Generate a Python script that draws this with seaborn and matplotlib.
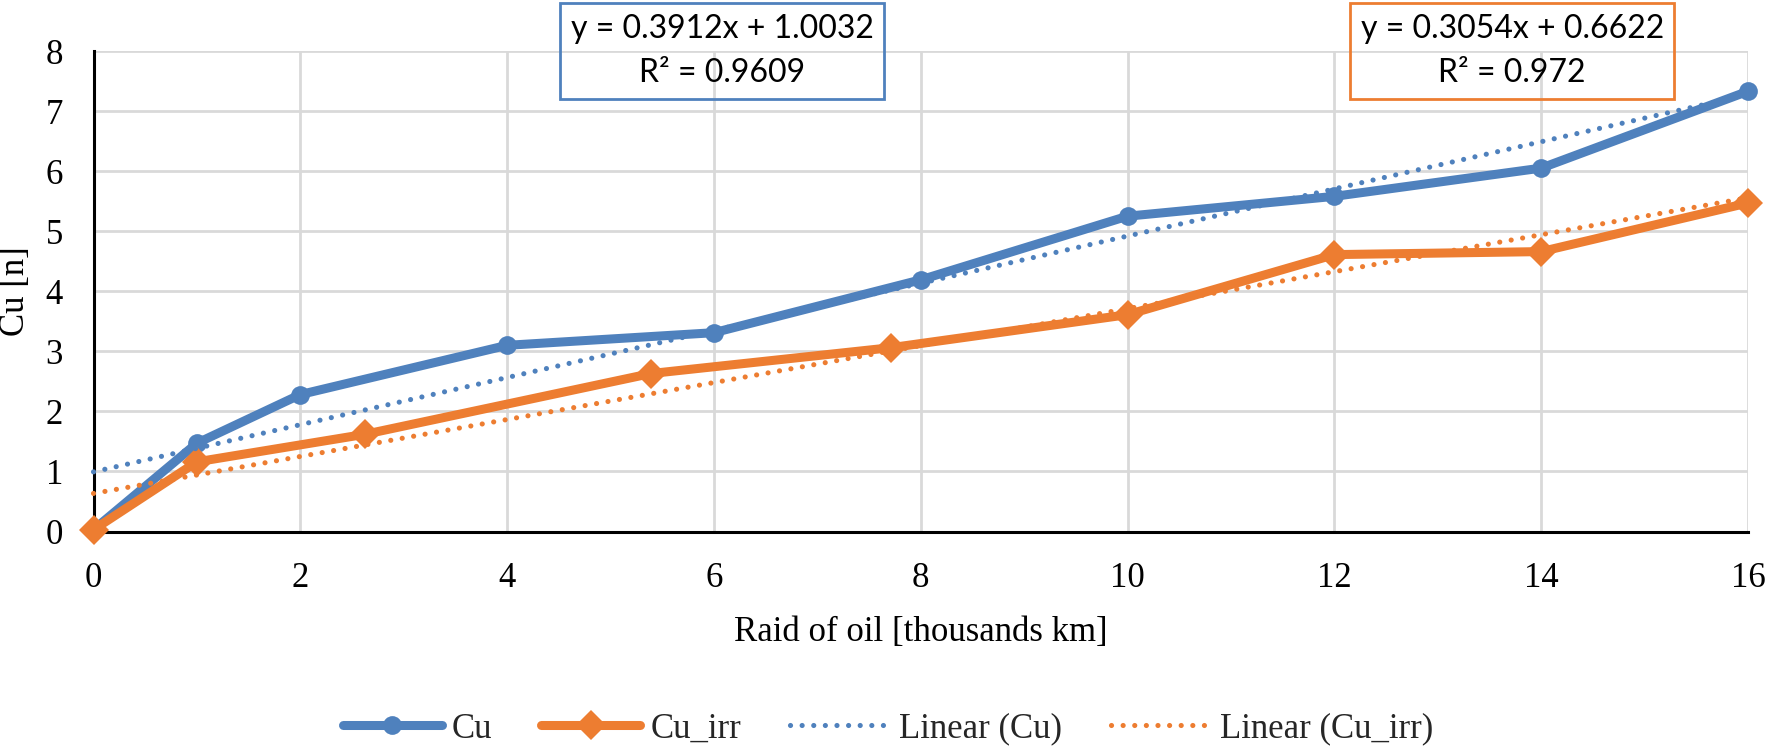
import numpy as np
import pandas as pd
import matplotlib
matplotlib.use("Agg")
import matplotlib.pyplot as plt
import seaborn as sns
from matplotlib.lines import Line2D

# ---- DATA ----
cu_x = [0, 1, 2, 4, 6, 8, 10, 12, 14, 16]
cu_y = [0.03, 1.47, 2.28, 3.10, 3.31, 4.19, 5.25, 5.58, 6.05, 7.33]
cu_irr_x = [0, 1, 2.63, 5.39, 7.71, 10, 12, 14, 16]
cu_irr_y = [0.03, 1.16, 1.62, 2.63, 3.06, 3.61, 4.61, 4.66, 5.47]

series_names = ["Cu", "Cu_irr"]
trend_labels = ["Linear (Cu)", "Linear (Cu_irr)"]
trend_equations = [
    "y = 0.3912x + 1.0032\nR\u00b2 = 0.9609",
    "y = 0.3054x + 0.6622\nR\u00b2 = 0.972",
]
x_ticks = [0, 2, 4, 6, 8, 10, 12, 14, 16]
y_ticks = [0, 1, 2, 3, 4, 5, 6, 7, 8]

BLUE = "#4F81BD"
ORANGE = "#ED7D31"
GRID = "#D9D9D9"
W, H = 1766, 746

# Excel style round dots
DOTS = (0, (0.01, 2.25))
DOT_LW = 3.7


def main():
    sns.set_theme(style="whitegrid")
    plt.rcParams["font.family"] = ["Liberation Serif", "DejaVu Serif"]

    df = pd.concat([
        pd.DataFrame({"x": cu_x, "y": cu_y, "series": series_names[0]}),
        pd.DataFrame({"x": cu_irr_x, "y": cu_irr_y, "series": series_names[1]}),
    ], ignore_index=True)

    fig = plt.figure(figsize=(W / 100, H / 100), dpi=100)
    ax = fig.add_axes([93.5 / W, 1 - 531.5 / H, (1748 - 93.5) / W, 480.5 / H])

    # ---- MAIN SERIES ----
    sns.lineplot(
        data=df, x="x", y="y", hue="series", style="series",
        markers={"Cu": "o", "Cu_irr": "D"}, dashes=False,
        palette={"Cu": BLUE, "Cu_irr": ORANGE},
        linewidth=6.5, markersize=13, markeredgewidth=0,
        sort=False, legend=False, ax=ax, zorder=3,
    )
    ax.lines[0].set_markersize(13.5)
    ax.lines[1].set_markersize(15.5)

    # ---- LINEAR TRENDLINES ----
    for xs, ys, col in [(cu_x, cu_y, BLUE), (cu_irr_x, cu_irr_y, ORANGE)]:
        sns.regplot(
            x=xs, y=ys, scatter=False, ci=None, color=col, ax=ax,
            line_kws=dict(lw=DOT_LW, linestyle=DOTS, dash_capstyle="round", zorder=4),
        )

    for line in ax.lines:
        line.set_clip_on(False)

    ax.set_xlim(0, 16)
    ax.set_ylim(0, 8)
    ax.set_xticks(x_ticks)
    ax.set_yticks(y_ticks)
    ax.grid(True, color=GRID, lw=2)
    ax.set_axisbelow(True)
    ax.tick_params(length=0, pad=22, labelsize=25, colors="black")
    for side in ["top", "right"]:
        ax.spines[side].set_visible(False)
    for side in ["left", "bottom"]:
        ax.spines[side].set_color("black")
        ax.spines[side].set_linewidth(2.2)
        ax.spines[side].set_zorder(2)

    ax.set_xlabel("Raid of oil [thousands km]", fontsize=25, color="black")
    ax.set_ylabel("Cu [n]", fontsize=25, color="black")
    ax.xaxis.set_label_coords(0.5, -0.175)
    ax.yaxis.set_label_coords(-0.037, 0.5)

    # ---- TRENDLINE EQUATION BOXES ----
    for (bx, col), txt in zip([(6.08, BLUE), (13.72, ORANGE)], trend_equations):
        ax.text(
            bx, 8.0, txt, ha="center", va="center", fontsize=23,
            family=["Lato", "DejaVu Sans"], linespacing=1.6, color="black",
            bbox=dict(boxstyle="square,pad=0.33", fc="none", ec=col, lw=2),
            clip_on=False, zorder=6,
        )

    # ---- LEGEND ----
    handles = [
        Line2D([], [], color=BLUE, lw=6.5, marker="o", ms=13.5, mew=0),
        Line2D([], [], color=ORANGE, lw=6.5, marker="D", ms=15.5, mew=0),
        Line2D([], [], color=BLUE, lw=DOT_LW, linestyle=DOTS, dash_capstyle="round"),
        Line2D([], [], color=ORANGE, lw=DOT_LW, linestyle=DOTS, dash_capstyle="round"),
    ]
    fig.legend(
        handles, series_names + trend_labels, loc="center",
        bbox_to_anchor=(888 / W, 1 - 729 / H), ncol=4, frameon=False,
        fontsize=25, handlelength=2.85, handletextpad=0.3, columnspacing=1.4,
    )

    fig.savefig("out.png", dpi=100)


if __name__ == "__main__":
    main()
